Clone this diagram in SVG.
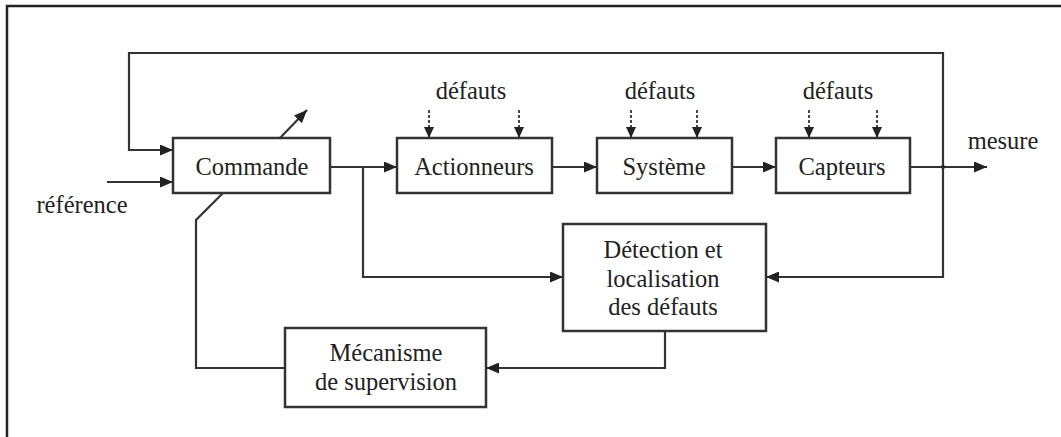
<svg xmlns="http://www.w3.org/2000/svg" width="1061" height="437" viewBox="0 0 1061 437">
  <style>
    .box { fill: #fff; stroke: #333; stroke-width: 2.5; }
    .wire { fill: none; stroke: #333; stroke-width: 2.2; }
    .dash { fill: none; stroke: #333; stroke-width: 1.8; stroke-dasharray: 3 2; }
    text { font-family: "Liberation Serif", "DejaVu Serif", serif; font-size: 24.5px; fill: #222; text-anchor: middle; }
  </style>
  <defs>
    <marker id="arr" viewBox="0 0 13 11" refX="13" refY="5.5" markerWidth="13" markerHeight="11" markerUnits="userSpaceOnUse" orient="auto">
      <path d="M0,0 L13,5.5 L0,11 Z" fill="#222"/>
    </marker>
    <marker id="arrs" viewBox="0 0 11 10" refX="11" refY="5" markerWidth="11" markerHeight="10" markerUnits="userSpaceOnUse" orient="auto">
      <path d="M0,0 L11,5 L0,10 Z" fill="#222"/>
    </marker>
  </defs>

  <!-- frame -->
  <path d="M7,437 V6 H1061" fill="none" stroke="#222" stroke-width="2.5"/>

  <g id="connectors">
    <!-- global feedback into Commande -->
    <path class="wire" d="M943,167 V53 H129 V150 H173" marker-end="url(#arr)"/>
    <!-- reference input -->
    <path class="wire" d="M107,182 H173" marker-end="url(#arr)"/>
    <!-- adjustable control arrow -->
    <path class="wire" d="M280,138 L307,110" marker-end="url(#arr)"/>
    <!-- forward chain -->
    <path class="wire" d="M330,167 H397" marker-end="url(#arr)"/>
    <path class="wire" d="M552,167 H597" marker-end="url(#arr)"/>
    <path class="wire" d="M732,167 H776" marker-end="url(#arr)"/>
    <path class="wire" d="M910,167 H987" marker-end="url(#arr)"/>
    <circle cx="943" cy="167" r="2" fill="#222"/>
    <!-- command signal to detection -->
    <path class="wire" d="M363,167 V277 H563" marker-end="url(#arr)"/>
    <!-- measurement to detection -->
    <path class="wire" d="M943,167 V277 H766" marker-end="url(#arr)"/>
    <!-- detection to supervision -->
    <path class="wire" d="M665,331 V368 H486" marker-end="url(#arr)"/>
    <!-- supervision back to Commande -->
    <path class="wire" d="M285,368 H196 V220 L223,193"/>
    <!-- fault inputs -->
    <path class="dash" d="M429,110 V138" marker-end="url(#arrs)"/>
    <path class="dash" d="M519,110 V138" marker-end="url(#arrs)"/>
    <path class="dash" d="M631,110 V138" marker-end="url(#arrs)"/>
    <path class="dash" d="M697,110 V138" marker-end="url(#arrs)"/>
    <path class="dash" d="M809,110 V138" marker-end="url(#arrs)"/>
    <path class="dash" d="M877,110 V138" marker-end="url(#arrs)"/>
  </g>

  <g id="commande">
    <rect class="box" x="173" y="138" width="157" height="55"/>
    <text x="252" y="175">Commande</text>
  </g>
  <g id="actionneurs">
    <rect class="box" x="397" y="138" width="155" height="55"/>
    <text x="474" y="175">Actionneurs</text>
  </g>
  <g id="systeme">
    <rect class="box" x="597" y="138" width="135" height="55"/>
    <text x="664" y="175">Système</text>
  </g>
  <g id="capteurs">
    <rect class="box" x="776" y="138" width="134" height="55"/>
    <text x="842" y="175">Capteurs</text>
  </g>
  <g id="detection">
    <rect class="box" x="563" y="224" width="203" height="107"/>
    <text x="663" y="258">Détection et</text>
    <text x="663" y="287">localisation</text>
    <text x="663" y="315">des défauts</text>
  </g>
  <g id="supervision">
    <rect class="box" x="285" y="328" width="201" height="79"/>
    <text x="386" y="361">Mécanisme</text>
    <text x="386" y="390">de supervision</text>
  </g>

  <g id="labels">
    <text x="471" y="99">défauts</text>
    <text x="660" y="99">défauts</text>
    <text x="838" y="99">défauts</text>
    <text x="1003" y="149">mesure</text>
    <text x="82" y="213">référence</text>
  </g>
</svg>
